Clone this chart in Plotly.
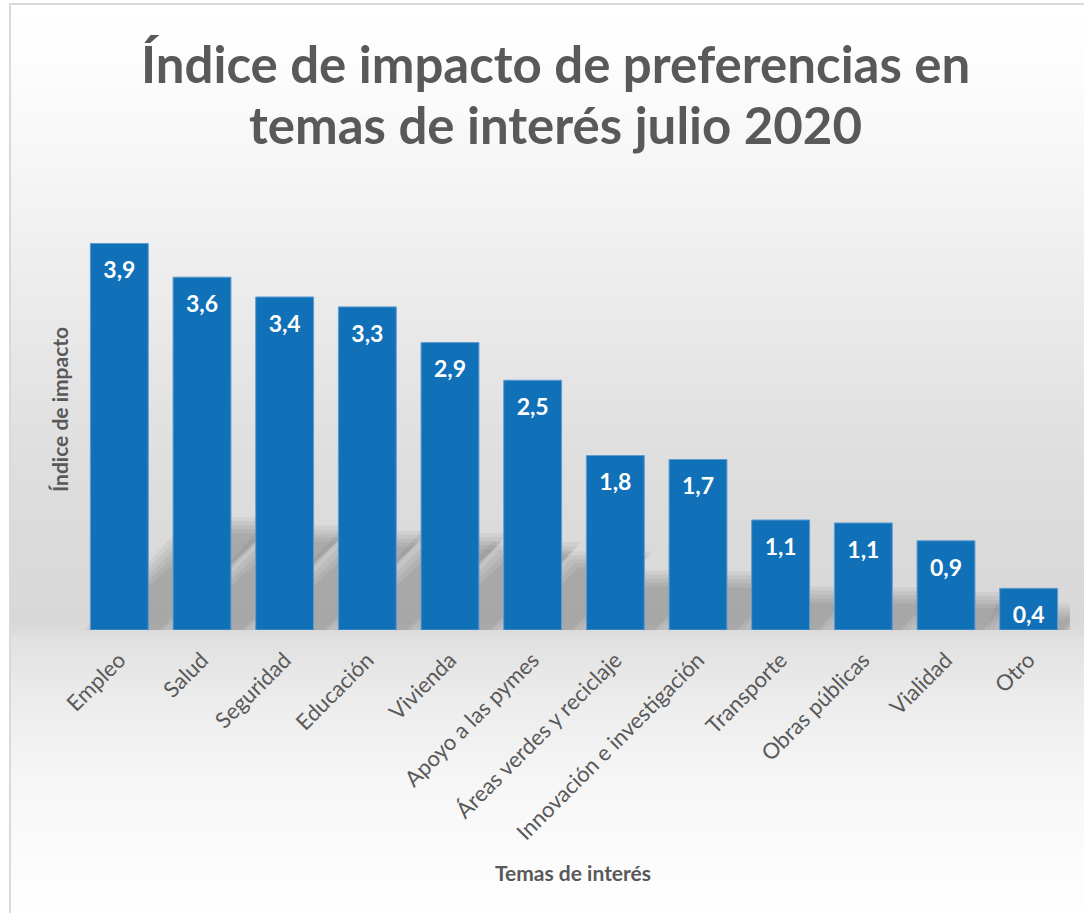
import plotly.graph_objects as go

categories = ["Empleo", "Salud", "Seguridad", "Educación", "Vivienda",
              "Apoyo a las pymes", "Áreas verdes y reciclaje",
              "Innovación e investigación", "Transporte", "Obras públicas",
              "Vialidad", "Otro"]
values = [3.9, 3.56, 3.36, 3.26, 2.9, 2.52, 1.76, 1.72, 1.11, 1.08, 0.9, 0.42]
title_lines = ["Índice de impacto de preferencias en", "temas de interés julio 2020"]
x_title = "Temas de interés"
y_title = "Índice de impacto"

W, H = 1084, 913
ML, MR, MT, MB = 78, 14, 184, 283
YMAX = 4.5
PW = W - ML - MR
PH = H - MT - MB
CAT_PX = PW / len(categories)
UNIT_PX = PH / YMAX
BAR_W = 0.7
GRAY_TXT = "#595959"
FONT = "Lato"


def pxx(px):
    return (px - ML) / PW


def pxy(py):
    return (H - MB - py) / PH


# background gradient (grey level by pixel row)
stops = [(0, 255), (60, 253), (150, 247), (250, 239), (350, 231), (450, 223),
         (550, 218), (625, 216), (640, 225), (700, 236), (780, 246),
         (850, 251), (913, 254)]


def gray_at(y):
    for (y0, g0), (y1, g1) in zip(stops[:-1], stops[1:]):
        if y0 <= y <= y1:
            return g0 + (g1 - g0) * (y - y0) / (y1 - y0)
    return 255


shapes = []
step = 5
for py in range(5, H + 5, step):
    g = int(round(gray_at(py + step / 2)))
    shapes.append(dict(type="rect", xref="paper", yref="paper",
                       x0=pxx(11), x1=pxx(W + 10), y0=pxy(py + step + 0.6), y1=pxy(py),
                       fillcolor=f"rgb({g},{g},{g})", line=dict(width=0), layer="below"))
shapes.append(dict(type="rect", xref="paper", yref="paper",
                   x0=pxx(10), x1=pxx(W + 20), y0=pxy(H + 20), y1=pxy(4),
                   fillcolor="rgba(0,0,0,0)", line=dict(color="#d9d9d9", width=2),
                   layer="below"))

# perspective shadows behind bars (soft, layered)
xs = list(range(len(categories)))
for i, v in zip(xs, values):
    sh = 0.25 * v
    dx = sh * UNIT_PX * 1.2 / CAT_PX
    x0 = i - BAR_W / 2
    x1 = i + BAR_W / 2
    for e in (16, 12, 8, 4, 0):
        ex = e / CAT_PX
        ey = e / UNIT_PX
        path = (f"M {x0 - ex},{-0.1} L {x1 + ex},{-0.1} "
                f"L {x1 + dx + ex},{sh + ey} L {x0 + dx - ex},{sh + ey} Z")
        shapes.append(dict(type="path", xref="x", yref="y", path=path,
                           fillcolor="rgba(0,0,0,0.048)", line=dict(width=0),
                           layer="below"))

fig = go.Figure()
fig.add_trace(go.Bar(
    x=xs, y=values, width=BAR_W,
    marker=dict(color="#1070b8", line=dict(color="#5f9bd0", width=1)),
    hoverinfo="skip", showlegend=False,
))
fig.add_trace(go.Scatter(
    x=xs, y=[v - 29 / UNIT_PX for v in values], mode="text",
    text=[f"{v:.1f}".replace(".", ",") for v in values],
    textfont=dict(family=FONT, size=23, color="white", weight="bold"),
    textposition="middle center", hoverinfo="skip", showlegend=False,
))

annotations = [
    dict(text=title_lines[0], xref="paper", yref="paper",
         x=pxx(555), y=pxy(63), xanchor="center", yanchor="middle",
         showarrow=False, font=dict(family=FONT, size=51, color=GRAY_TXT, weight="bold")),
    dict(text=title_lines[1], xref="paper", yref="paper",
         x=pxx(555), y=pxy(125), xanchor="center", yanchor="middle",
         showarrow=False, font=dict(family=FONT, size=51, color=GRAY_TXT, weight="bold")),
    dict(text=y_title, xref="paper", yref="paper", x=pxx(59), y=pxy(410),
         xanchor="center", yanchor="middle", textangle=-90, showarrow=False,
         font=dict(family=FONT, size=21, color=GRAY_TXT, weight="bold")),
    dict(text=x_title, xref="paper", yref="paper", x=pxx(573), y=pxy(872),
         xanchor="center", yanchor="middle", showarrow=False,
         font=dict(family=FONT, size=21, color=GRAY_TXT, weight="bold")),
]

fig.update_layout(
    width=W, height=H,
    margin=dict(l=ML, r=MR, t=MT, b=MB, pad=0),
    paper_bgcolor="white", plot_bgcolor="rgba(0,0,0,0)",
    shapes=shapes, annotations=annotations,
    separators=",.",
    xaxis=dict(range=[-0.5, len(categories) - 0.5], tickmode="array",
               tickvals=xs, ticktext=categories, tickangle=-45,
               tickfont=dict(family=FONT, size=22, color=GRAY_TXT),
               showgrid=False, zeroline=False, showline=False, ticks="",
               ticklabelstandoff=12, fixedrange=True),
    yaxis=dict(range=[0, YMAX], visible=False, showgrid=False, fixedrange=True),
)

fig.write_html("out.html", config={"displayModeBar": False},
               post_script="document.body.style.margin='0';document.body.style.overflow='hidden';")
